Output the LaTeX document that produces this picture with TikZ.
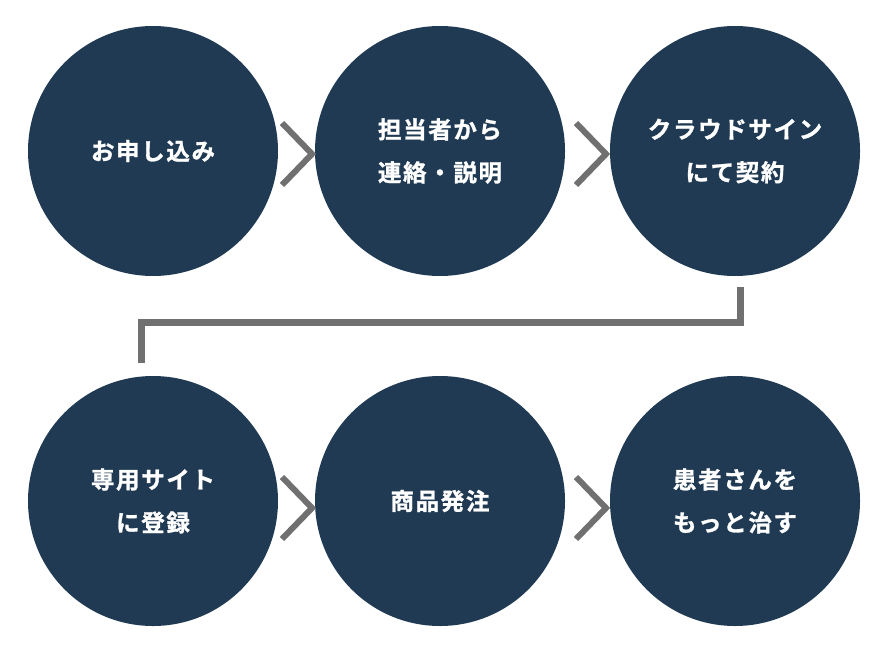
\documentclass[tikz,border=0pt]{standalone}
\usepackage{fontspec}
\newfontfamily\jp{Noto Sans CJK JP Bold}[LetterSpace=7,FakeBold=1.2]
\definecolor{navy}{RGB}{32,58,83}
\definecolor{linegray}{RGB}{112,112,112}
\begin{document}
\begin{tikzpicture}[x=1pt,y=-1pt,
  stepcircle/.style={circle,fill=navy,minimum size=250pt,inner sep=0pt,
    text=white,align=center,font=\jp\fontsize{23.5}{43}\selectfont},
  chev/.style={draw=linegray,line width=6pt,line cap=butt,line join=miter}]
\useasboundingbox (0,0) rectangle (890,650);
\node[stepcircle] (s1) at (153,151) {お申し込み};
\node[stepcircle] (s2) at (440,151) {担当者から\\連絡・説明};
\node[stepcircle] (s3) at (735,151) {クラウドサイン\\にて契約};
\node[stepcircle] (s4) at (153,501) {専用サイト\\に登録};
\node[stepcircle] (s5) at (440,501) {商品発注};
\node[stepcircle] (s6) at (735,501) {患者さんを\\もっと治す};
% chevrons
\coordinate (c1) at (296,154);
\draw[chev] ([shift={(-14,-31)}]c1) -- ([shift={(16,0)}]c1) -- ([shift={(-14,31)}]c1);
\coordinate (c2) at (590,154);
\draw[chev] ([shift={(-14,-31)}]c2) -- ([shift={(16,0)}]c2) -- ([shift={(-14,31)}]c2);
\coordinate (c4) at (296,508);
\draw[chev] ([shift={(-14,-31)}]c4) -- ([shift={(16,0)}]c4) -- ([shift={(-14,31)}]c4);
\coordinate (c5) at (590,508);
\draw[chev] ([shift={(-14,-31)}]c5) -- ([shift={(16,0)}]c5) -- ([shift={(-14,31)}]c5);
% connector
\coordinate (a) at (740,287);
\coordinate (b) at (141,363);
\draw[draw=linegray,line width=7pt,line join=miter] (a) -- (740,322) -- (141,322) -- (b);
\end{tikzpicture}
\end{document}
